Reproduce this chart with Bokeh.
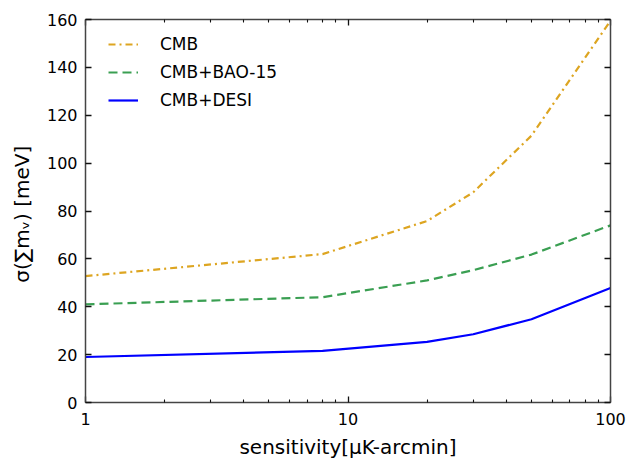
from bokeh.plotting import figure
from bokeh.models import (LinearAxis, LogAxis, FixedTicker, Legend, LegendItem,
                          Range1d)
from bokeh.embed import file_html
from bokeh.resources import INLINE

# ---- data ----
sensitivity = [1, 8, 20, 30, 50, 100]
cmb = [52.8, 62.0, 75.8, 87.8, 111.5, 159.5]
cmb_bao15 = [41.0, 44.0, 51.0, 55.3, 61.8, 74.0]
cmb_desi = [19.0, 21.6, 25.3, 28.5, 34.8, 47.8]

series_names = ["CMB", "CMB+BAO-15", "CMB+DESI"]
x_major = [1, 10, 100]
x_minor = [2, 3, 4, 5, 6, 7, 8, 9, 20, 30, 40, 50, 60, 70, 80, 90]
y_ticks = [0, 20, 40, 60, 80, 100, 120, 140, 160]

FONT = "DejaVu Sans"
AX_COLOR = "#444444"

p = figure(width=626, height=462, x_axis_type="log",
           x_range=Range1d(1, 100), y_range=Range1d(0, 160),
           output_backend="svg", toolbar_location=None,
           min_border_left=85, min_border_right=16,
           min_border_top=19, min_border_bottom=60)
p.xgrid.visible = False
p.ygrid.visible = False
p.outline_line_color = None
p.background_fill_color = "white"
p.border_fill_color = "white"

r1 = p.line(sensitivity, cmb, line_color="#DDA521", line_width=2.2,
            line_dash="7 4 2 4")
r2 = p.line(sensitivity, cmb_bao15, line_color="#3a9f52", line_width=2.2,
            line_dash="9 5")
r3 = p.line(sensitivity, cmb_desi, line_color="#0000ff", line_width=2.2)


def style_axis(ax, show_labels=True):
    ax.axis_line_color = AX_COLOR
    ax.axis_line_width = 1.5
    ax.major_tick_line_color = "#111111"
    ax.major_tick_line_width = 1.3
    ax.minor_tick_line_color = "#111111"
    ax.minor_tick_line_width = 1.1
    ax.major_tick_in = 6
    ax.major_tick_out = 0
    ax.minor_tick_in = 3
    ax.minor_tick_out = 0
    ax.major_label_text_font = FONT
    ax.major_label_text_font_size = "16px"
    ax.major_label_text_color = "black"
    ax.axis_label_text_color = "black"
    if not show_labels:
        ax.major_label_text_font_size = "2px"
        ax.major_label_text_alpha = 0
        ax.major_label_standoff = 0


xt = FixedTicker(ticks=x_major, minor_ticks=x_minor)
yt = FixedTicker(ticks=y_ticks, minor_ticks=[])

xa = p.xaxis[0]
xa.ticker = xt
style_axis(xa)
xa.major_label_overrides = {1: "1", 10: "10", 100: "100"}
xa.major_label_standoff = 10
xa.axis_label = "sensitivity[μK-arcmin]"
xa.axis_label_text_font = FONT
xa.axis_label_text_font_size = "20px"
xa.axis_label_text_font_style = "normal"
xa.axis_label_standoff = 7

ya = p.yaxis[0]
ya.ticker = yt
style_axis(ya)
ya.major_label_standoff = 8
ya.axis_label = "σ(∑mᵥ)  [meV]"
ya.axis_label_text_font = FONT
ya.axis_label_text_font_size = "20px"
ya.axis_label_text_font_style = "normal"
ya.axis_label_standoff = 10

top = LogAxis(ticker=FixedTicker(ticks=x_major, minor_ticks=x_minor))
style_axis(top, show_labels=False)
p.add_layout(top, "above")
right = LinearAxis(ticker=FixedTicker(ticks=y_ticks, minor_ticks=[]))
style_axis(right, show_labels=False)
p.add_layout(right, "right")

legend = Legend(items=[LegendItem(label=series_names[0], renderers=[r1]),
                       LegendItem(label=series_names[1], renderers=[r2]),
                       LegendItem(label=series_names[2], renderers=[r3])],
                location=(23, 292), margin=0, padding=0,
                background_fill_alpha=0, border_line_color=None,
                label_text_font=FONT, label_text_font_size="17px",
                label_text_color="black",
                glyph_width=30, glyph_height=20, label_height=20,
                spacing=8, label_standoff=22)
p.add_layout(legend, "center")

open("out.html", "w").write(file_html(p, INLINE))
